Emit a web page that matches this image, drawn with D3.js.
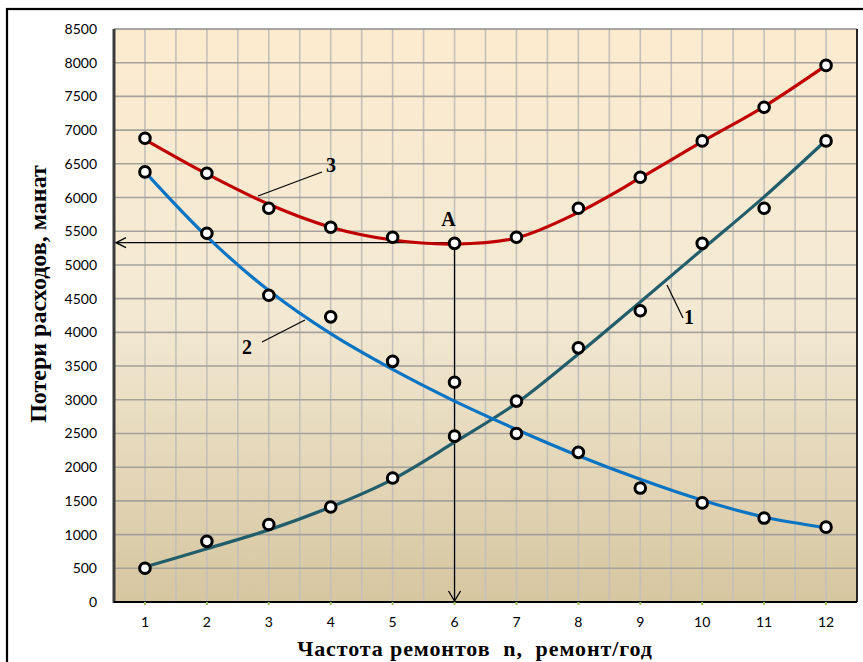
<!DOCTYPE html>
<html><head><meta charset="utf-8">
<script src="https://cdn.jsdelivr.net/npm/d3@7"></script>
<style>html,body{margin:0;padding:0;background:#fff;}svg{display:block;}</style>
</head><body>
<svg id="chart" width="863" height="662"></svg>
<script>
// ---- data ----
const categories = [1,2,3,4,5,6,7,8,9,10,11,12];
const yTicks = [0,500,1000,1500,2000,2500,3000,3500,4000,4500,5000,5500,6000,6500,7000,7500,8000,8500];
// measured points
const points1 = [500, 900, 1150, 1410, 1840, 2460, 2980, 3770, 4320, 5320, 5840, 6840];
const points2 = [6380, 5470, 4550, 4230, 3570, 3260, 2500, 2220, 1690, 1470, 1245, 1110];
const points3 = [6880, 6360, 5840, 5560, 5410, 5320, 5410, 5840, 6300, 6840, 7340, 7960];
// trend curves
const trend1 = [520, 790, 1070, 1410, 1820, 2370, 2950, 3680, 4450, 5230, 6010, 6850];
const trend2 = [6380, 5420, 4620, 3980, 3450, 2980, 2560, 2170, 1820, 1510, 1260, 1100];
const trend3 = [6860, 6350, 5900, 5560, 5370, 5310, 5400, 5780, 6290, 6830, 7350, 7960];
const pointA = {n: 6, v: 5330, label: "A"};
const xTitle = "Частота ремонтов\u00A0\u00A0n,\u00A0\u00A0ремонт/год";
const yTitle = "Потери расходов, манат";

// ---- layout ----
const svg = d3.select("#chart");
const L = 114, R = 857, T = 29, B = 602;
const x = d3.scaleBand().domain(categories).range([L, R]).padding(0);
const cx = d => x(d) + x.bandwidth()/2;
const y = d3.scaleLinear().domain([0, 8500]).range([B, T]);

// outer border
svg.append("rect").attr("x", 7).attr("y", 9).attr("width", 880).attr("height", 680)
  .attr("fill", "#fff").attr("stroke", "#000").attr("stroke-width", 2.2);

// background gradient
const defs = svg.append("defs");
const g = defs.append("linearGradient").attr("id", "bg").attr("x1", 0).attr("y1", 0).attr("x2", 0).attr("y2", 1);
g.append("stop").attr("offset", "0%").attr("stop-color", "#FCEBCF");
g.append("stop").attr("offset", "50%").attr("stop-color", "#F3E9D3");
g.append("stop").attr("offset", "100%").attr("stop-color", "#D6C6A0");
svg.append("rect").attr("x", L).attr("y", T).attr("width", R-L).attr("height", B-T).attr("fill", "url(#bg)");

// vertical grid (every half category)
const vLines = [];
categories.forEach(c => { vLines.push(x(c)); vLines.push(cx(c)); });
svg.append("g").selectAll("line").data(vLines.filter(v => v > L+1)).join("line")
  .attr("x1", d => d).attr("x2", d => d).attr("y1", T).attr("y2", B)
  .attr("stroke", "#C3C0BA").attr("stroke-width", 1.6);
// horizontal grid
svg.append("g").selectAll("line").data(yTicks.filter(t => t > 0 && t < 8500)).join("line")
  .attr("x1", L).attr("x2", R).attr("y1", d => y(d)).attr("y2", d => y(d))
  .attr("stroke", "#A5A29C").attr("stroke-width", 1.6);

// plot border
svg.append("line").attr("x1", L).attr("x2", R).attr("y1", T).attr("y2", T).attr("stroke", "#8a8a8a").attr("stroke-width", 1.5);
svg.append("line").attr("x1", R).attr("x2", R).attr("y1", T).attr("y2", B).attr("stroke", "#262626").attr("stroke-width", 2);
svg.append("line").attr("x1", L).attr("x2", L).attr("y1", T).attr("y2", B+1).attr("stroke", "#3c3c3c").attr("stroke-width", 3);

// axes
const yAxis = d3.axisLeft(y).tickValues(yTicks).tickFormat(d3.format("d")).tickSize(0).tickPadding(17);
const ya = svg.append("g").attr("transform", `translate(${L},0)`).call(yAxis);
ya.select(".domain").remove();
ya.selectAll("text").attr("font-family", "Lato, 'Open Sans', sans-serif").attr("font-size", 14).attr("fill", "#000");

const xAxis = d3.axisBottom(x).tickSize(3).tickPadding(12);
const xa = svg.append("g").attr("transform", `translate(0,${B})`).call(xAxis);
xa.select(".domain").attr("stroke", "#000").attr("stroke-width", 2).attr("d", `M${L},0H${R}`);
xa.selectAll(".tick line").attr("stroke", "#9BBB59").attr("stroke-width", 2);
xa.selectAll("text").attr("font-family", "Lato, 'Open Sans', sans-serif").attr("font-size", 14).attr("fill", "#000");

// trend lines
const line = d3.line().x((d, i) => cx(categories[i])).y(d => y(d)).curve(d3.curveCatmullRom.alpha(0.5));
const series = [
  {trend: trend1, pts: points1, color: "#215D6B"},
  {trend: trend2, pts: points2, color: "#0A74C4"},
  {trend: trend3, pts: points3, color: "#C00000"}
];

// annotation arrows (behind markers)
const ax = cx(pointA.n), ay = y(pointA.v);
const ann = svg.append("g").attr("stroke", "#000").attr("stroke-width", 1.3).attr("fill", "none");
ann.append("line").attr("x1", ax).attr("x2", L+2).attr("y1", ay).attr("y2", ay);
ann.append("path").attr("d", `M${L+12},${ay-5}L${L+2},${ay}L${L+12},${ay+5}`);
ann.append("line").attr("x1", ax).attr("x2", ax).attr("y1", ay).attr("y2", B-1);
ann.append("path").attr("d", `M${ax-6},${B-11}L${ax},${B-1}L${ax+6},${B-11}`);

series.forEach(s => {
  svg.append("path").datum(s.trend).attr("d", line).attr("fill", "none")
    .attr("stroke", s.color).attr("stroke-width", 3.2).attr("stroke-linecap", "round");
});
series.forEach(s => {
  svg.append("g").selectAll("circle").data(s.pts).join("circle")
    .attr("cx", (d, i) => cx(categories[i])).attr("cy", d => y(d)).attr("r", 5.3)
    .attr("fill", "#fff").attr("stroke", "#000").attr("stroke-width", 3);
});

// leader labels
const serif = "'Liberation Serif', 'Times New Roman', serif";
const labels = [
  {t: "3", x: 331, y: 172, lx1: 258, ly1: 196, lx2: 322, ly2: 172},
  {t: "2", x: 247, y: 354, lx1: 262, ly1: 342, lx2: 305, ly2: 320},
  {t: "1", x: 689, y: 324, lx1: 667, ly1: 285, lx2: 683, ly2: 318}
];
labels.forEach(l => {
  svg.append("line").attr("x1", l.lx1).attr("y1", l.ly1).attr("x2", l.lx2).attr("y2", l.ly2)
    .attr("stroke", "#000").attr("stroke-width", 1.2);
  svg.append("text").attr("x", l.x).attr("y", l.y).attr("text-anchor", "middle")
    .attr("font-family", serif).attr("font-weight", "bold").attr("font-size", 20).text(l.t);
});
svg.append("text").attr("x", ax - 6).attr("y", ay - 17).attr("text-anchor", "middle")
  .attr("font-family", serif).attr("font-weight", "bold").attr("font-size", 20).text(pointA.label);

// axis titles
svg.append("text").attr("x", 475).attr("y", 656).attr("text-anchor", "middle")
  .attr("font-family", serif).attr("font-weight", "bold").attr("font-size", 22)
  .attr("letter-spacing", 0.9).text(xTitle);
svg.append("text").attr("transform", "translate(46,294) rotate(-90)").attr("text-anchor", "middle")
  .attr("font-family", serif).attr("font-weight", "bold").attr("font-size", 24).text(yTitle);
</script>
</body></html>
